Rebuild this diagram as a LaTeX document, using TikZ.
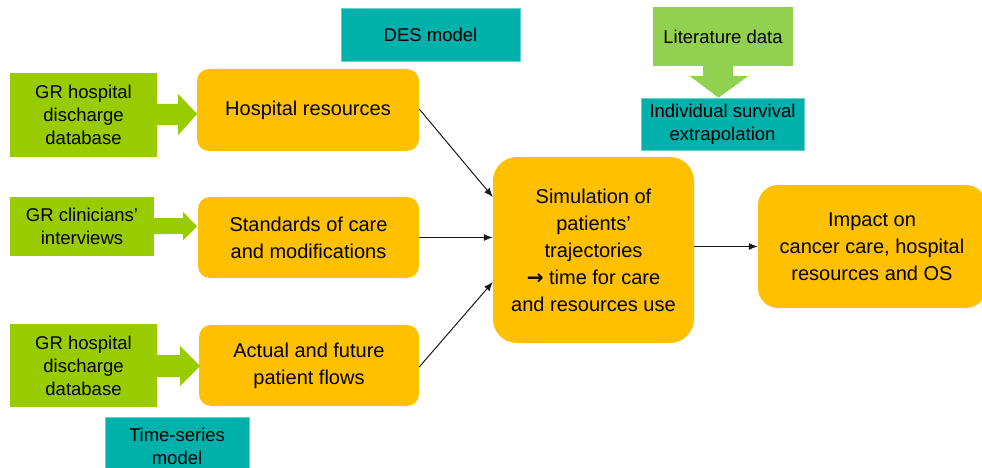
\documentclass[tikz,border=0pt]{standalone}
\usepackage{fontspec}
\setmainfont{Liberation Sans}
\newfontfamily\arrfont{DejaVu Sans}
\usetikzlibrary{calc,arrows.meta}
\definecolor{grn}{HTML}{99CC00}
\definecolor{lgrn}{HTML}{92D050}
\definecolor{org}{HTML}{FFC000}
\definecolor{tea}{HTML}{00B0AA}
\begin{document}
\begin{tikzpicture}[x=1pt,y=-1pt,
  every node/.style={inner sep=0pt,align=center,text=black},
  obox/.style={fill=org,rounded corners=12pt,font=\fontsize{20}{27}\selectfont},
  gbox/.style={fill=grn,font=\fontsize{18.5}{23}\selectfont},
  tbox/.style={fill=tea,draw=tea!60!white,line width=0.6pt,font=\fontsize{18.5}{23}\selectfont},
  conn/.style={-{Latex[length=9pt,width=7pt]},line width=1pt,black!90}]
\useasboundingbox (0,0) rectangle (982,468);
% teal model boxes
\node[tbox,minimum width=179pt,minimum height=53pt] (des) at (430.5,34.5) {DES model};
\node[tbox,minimum width=144pt,minimum height=58pt] (ts) at (177,446) {Time-series\\model};
% literature
\node[fill=lgrn,minimum width=140pt,minimum height=59pt,font=\fontsize{18.5}{23}\selectfont] (lit) at (723,36.5) {Literature data};
\node[tbox,minimum width=163pt,minimum height=52pt] (ind) at (722.5,124) {Individual survival\\extrapolation};
\fill[lgrn] ($(lit.south)+(-20,-1)$) -- ($(lit.south)+(10,-1)$) -- ($(lit.south)+(10,10)$) -- ($(lit.south)+(25,10)$) -- ($(ind.north)+(-4,0)$) -- ($(lit.south)+(-33,10)$) -- ($(lit.south)+(-20,10)$) -- cycle;
% orange boxes
\node[obox,minimum width=222pt,minimum height=82pt] (hosp) at (308,110) {Hospital resources};
\node[obox,minimum width=221pt,minimum height=81pt] (stand) at (308.5,237.5) {Standards of care\\and modifications};
\node[obox,minimum width=220pt,minimum height=81pt] (act) at (309,365.5) {Actual and future\\patient flows};
\node[obox,rounded corners=24pt,minimum width=201pt,minimum height=186pt] (sim) at (593.5,250) {Simulation of\\patients’\\trajectories\\{\arrfont\bfseries →} time for care\\and resources use};
\node[obox,rounded corners=20pt,minimum width=228pt,minimum height=123pt] (imp) at (872,246.5) {Impact on\\cancer care, hospital\\resources and OS};
% green sources
\node[gbox,minimum width=147pt,minimum height=84pt] (g1) at (83.5,115) {GR hospital\\discharge\\database};
\node[gbox,minimum width=144pt,minimum height=59pt] (g2) at (82,226.5) {GR clinicians’\\interviews};
\node[gbox,minimum width=147pt,minimum height=83pt] (g3) at (83.5,365.5) {GR hospital\\discharge\\database};
% block arrows
\fill[grn] ($(g1.east)+(-1,-11)$) -- ($(g1.east)+(21,-11)$) -- ($(g1.east)+(21,-21)$) -- ($(g1.east)+(40,-1)$) -- ($(g1.east)+(21,20)$) -- ($(g1.east)+(21,10)$) -- ($(g1.east)+(-1,10)$) -- cycle;
\fill[grn] ($(g2.east)+(-1,-8.5)$) -- ($(g2.east)+(29,-8.5)$) -- ($(g2.east)+(29,-14.5)$) -- ($(g2.east)+(43,0)$) -- ($(g2.east)+(29,13.5)$) -- ($(g2.east)+(29,7.5)$) -- ($(g2.east)+(-1,7.5)$) -- cycle;
\fill[grn] ($(g3.east)+(-1,-10.5)$) -- ($(g3.east)+(23,-10.5)$) -- ($(g3.east)+(23,-19.5)$) -- ($(g3.east)+(43,0.5)$) -- ($(g3.east)+(23,20.5)$) -- ($(g3.east)+(23,11.5)$) -- ($(g3.east)+(-1,11.5)$) -- cycle;
% connectors
\draw[conn] ($(hosp.east)+(0,-1)$) -- ($(sim.west)+(0,-53)$);
\draw[conn] (stand.east) -- (stand.east -| sim.west);
\draw[conn] ($(act.east)+(0,1.5)$) -- ($(sim.west)+(0,32)$);
\draw[conn] (sim.east |- imp.west) -- (imp.west);
\end{tikzpicture}
\end{document}
